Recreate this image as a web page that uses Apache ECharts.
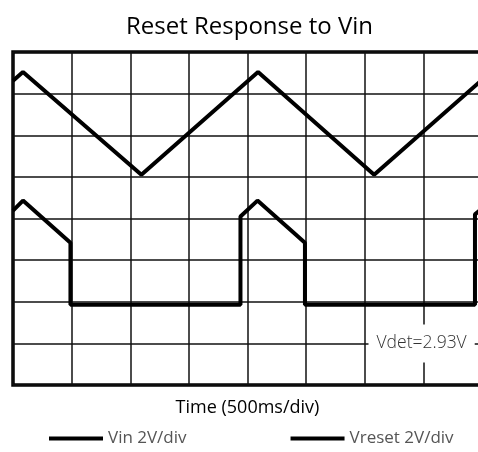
<!DOCTYPE html>
<html>
<head>
<meta charset="utf-8">
<script src="https://cdn.jsdelivr.net/npm/echarts@6/dist/echarts.min.js"></script>
<style>
  html, body { margin: 0; padding: 0; background: #fff; }
  #chart { width: 478px; height: 452px; }
</style>
</head>
<body>
<div id="chart"></div>
<script>
  // time in divisions (500ms/div), level in divisions (2V/div)
  var vinPoints = [[0, 7.31], [0.17, 7.52], [2.19, 5.05], [4.18, 7.52], [6.16, 5.05], [8, 7.33]];
  var vresetPoints = [
    [0, 4.19], [0.17, 4.43], [0.98, 3.42], [0.98, 1.93], [3.88, 1.93],
    [3.88, 4.05], [4.17, 4.43], [4.98, 3.42], [4.98, 1.93], [7.88, 1.93],
    [7.88, 4.1], [8, 4.24]
  ];
  var seriesNames = ['Vin 2V/div', 'Vreset 2V/div'];
  var vdetLabel = 'Vdet=2.93V';
  var vdetCoord = [6.97, 1];

  var chart = echarts.init(document.getElementById('chart'));
  var font = '"Open Sans", "Noto Sans", sans-serif';

  chart.setOption({
    animation: false,
    title: {
      text: 'Reset Response to Vin',
      left: 121,
      top: 10,
      textStyle: { fontFamily: font, fontSize: 24, fontWeight: 'normal', color: '#000' }
    },
    legend: {
      data: seriesNames,
      left: 44,
      top: 425,
      icon: 'rect',
      itemWidth: 54,
      itemHeight: 4,
      itemGap: 104,
      textStyle: { fontFamily: font, fontSize: 17, color: '#555' }
    },
    grid: {
      left: 13,
      top: 52,
      width: 469,
      height: 333,
      outerBoundsMode: 'none',
      show: true,
      borderColor: '#000',
      borderWidth: 3.5
    },
    xAxis: {
      type: 'value',
      min: 0,
      max: 8,
      interval: 1,
      name: 'Time (500ms/div)',
      nameLocation: 'middle',
      nameGap: 14,
      nameTextStyle: { fontFamily: font, fontSize: 18, color: '#000' },
      axisLine: { show: false },
      axisTick: { show: false },
      axisLabel: { show: false },
      splitLine: { lineStyle: { color: '#111', width: 1.5 } }
    },
    yAxis: {
      type: 'value',
      min: 0,
      max: 8,
      interval: 1,
      axisLine: { show: false },
      axisTick: { show: false },
      axisLabel: { show: false },
      splitLine: { lineStyle: { color: '#111', width: 1.5 } }
    },
    series: [
      {
        name: seriesNames[0],
        type: 'line',
        data: vinPoints,
        symbol: 'none',
        color: '#000',
        lineStyle: { color: '#000', width: 4 }
      },
      {
        name: seriesNames[1],
        type: 'line',
        data: vresetPoints,
        symbol: 'none',
        color: '#000',
        lineStyle: { color: '#000', width: 4 },
        markPoint: {
          symbol: 'rect',
          symbolSize: 0,
          data: [{ coord: vdetCoord }],
          label: {
            show: true,
            position: 'inside',
            formatter: vdetLabel,
            fontFamily: font,
            fontSize: 17.5,
            fontWeight: 300,
            color: '#333',
            backgroundColor: '#fff',
            lineHeight: 20,
            padding: [9, 8]
          }
        }
      }
    ]
  });
</script>
</body>
</html>
